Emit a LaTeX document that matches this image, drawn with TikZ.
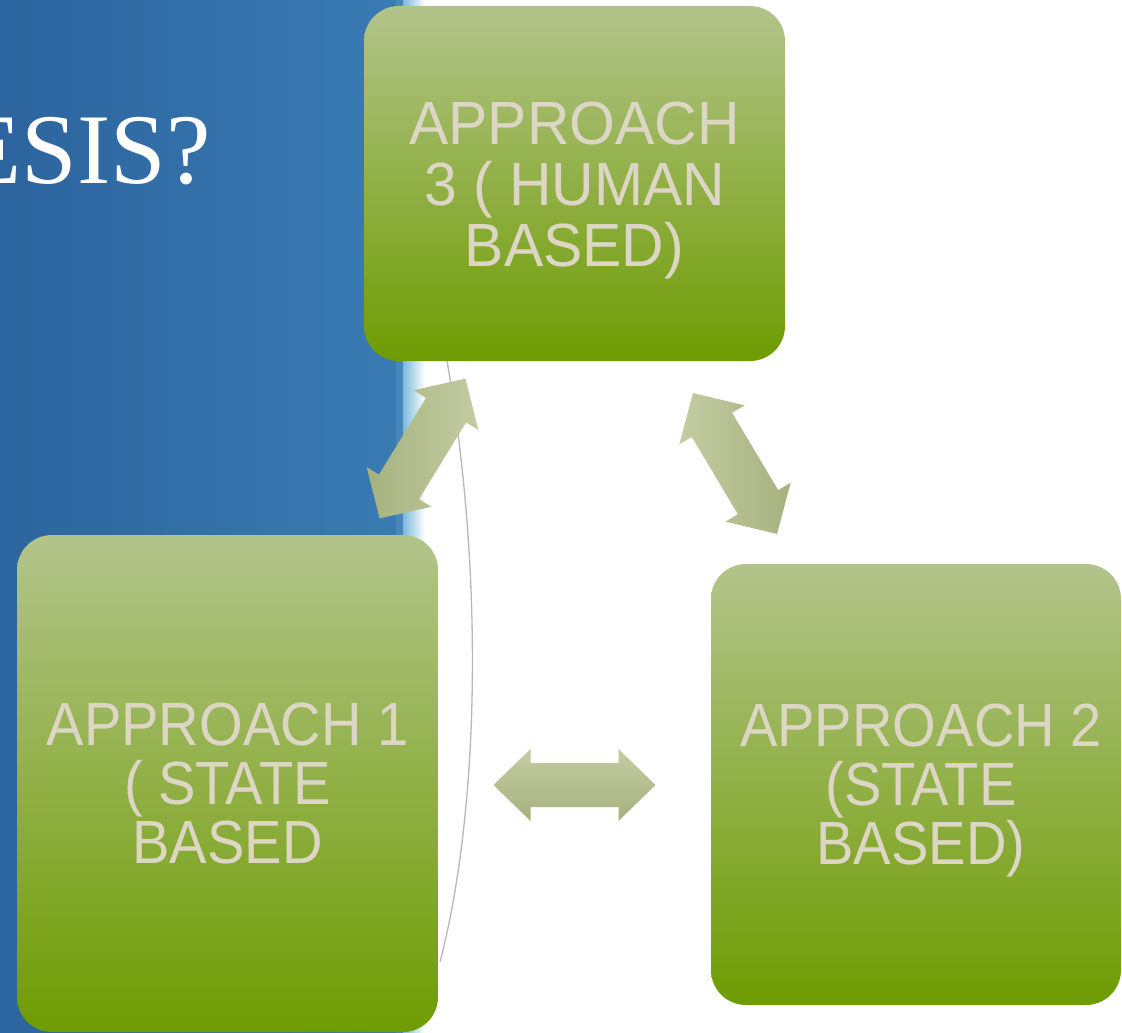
\documentclass[tikz,border=0pt]{standalone}
\usepackage{fontspec}
\setmainfont{Liberation Serif}
\newfontfamily\boxfont[FakeStretch=0.92]{Liberation Sans}
\newfontfamily\topboxfont[FakeStretch=0.965]{Liberation Sans}
\definecolor{boxtop}{HTML}{B3C48B}
\definecolor{boxbot}{HTML}{6E9C02}
\definecolor{arrlight}{HTML}{C4CCA2}
\definecolor{arrdark}{HTML}{A5B27E}
\definecolor{boxtext}{HTML}{DDD6C4}
\definecolor{bluedark}{HTML}{2C649E}
\definecolor{bluemid}{HTML}{3A7BB3}
\definecolor{bluelight}{HTML}{7DB8DE}
\definecolor{arcgray}{HTML}{B8B8BC}
\tikzset{
  stagebox/.style={rectangle, rounded corners=35pt, top color=boxtop, bottom color=boxbot,
    draw=none, inner sep=0pt},
  stagetext/.style={align=center, inner sep=0pt, text=boxtext, text depth=0pt,
    font=\boxfont\fontsize{61}{59}\selectfont},
  blockarrow/.style={draw=none},
}
\begin{document}
\begin{tikzpicture}[x=1pt,y=-1pt]
\useasboundingbox (0,0) rectangle (1122,1033);
% background
\fill[white] (0,0) rectangle (1122,1033);
\shade[left color=bluedark, right color=bluemid] (0,0) rectangle (396,1033);
\fill[bluemid!80!bluelight] (396,0) rectangle (403,1033);
\shade[left color=bluelight, right color=white] (403,0) rectangle (425,1033);
% title fragment
\node[anchor=base east, inner sep=0pt, text=white, font=\fontsize{100}{100}\selectfont] (title) at (211,183) {ESIS?};
% thin arc
\draw[arcgray, line width=1.3pt] (447,361) .. controls (482,560) and (482,800) .. (440,962);
% block arrows
\coordinate (a13) at (422.5,448.5);
\coordinate (a32) at (735,463.5);
\coordinate (a12) at (574.5,785);
\shade[blockarrow, shift={(a13)}, rotate=58.5, left color=arrdark, right color=arrlight]
  (-82,0) -- (-45,-38) -- (-45,-23.5) -- (45,-23.5) -- (45,-38) -- (82,0) -- (45,38) -- (45,23.5) -- (-45,23.5) -- (-45,38) -- cycle;
\shade[blockarrow, shift={(a32)}, rotate=-59.2, left color=arrlight, right color=arrdark]
  (-82,0) -- (-45,-38) -- (-45,-23.5) -- (45,-23.5) -- (45,-38) -- (82,0) -- (45,38) -- (45,23.5) -- (-45,23.5) -- (-45,38) -- cycle;
\shade[blockarrow, shift={(a12)}, top color=arrlight, bottom color=arrdark]
  (-81,0) -- (-44,-36) -- (-44,-22) -- (44,-22) -- (44,-36) -- (81,0) -- (44,36) -- (44,22) -- (-44,22) -- (-44,36) -- cycle;
% boxes
\node[stagebox, minimum width=421pt, minimum height=355pt] (ap3) at (574.5,183.5) {};
\node[stagebox, minimum width=421pt, minimum height=497pt] (ap1) at (227.5,783.5) {};
\node[stagebox, minimum width=410pt, minimum height=441pt] (ap2) at (916,784.5) {};
% box texts
\node[stagetext, font=\topboxfont\fontsize{61}{61}\selectfont] (t3) at ([yshift=-1pt]ap3.center) {APPROACH\\3 ( HUMAN\\BASED)};
\node[stagetext] (t1) at (ap1.center) {APPROACH 1\\( STATE\\BASED};
\node[stagetext] (t2) at ([xshift=5pt]ap2.center) {APPROACH 2\\(STATE\\BASED)};
\end{tikzpicture}
\end{document}
